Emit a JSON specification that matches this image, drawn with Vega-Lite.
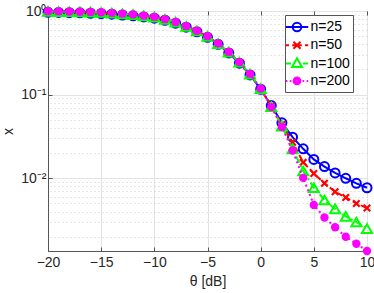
{
  "$schema": "https://vega.github.io/schema/vega-lite/v6.json",
  "width": 319,
  "height": 240,
  "autosize": {"type": "none"},
  "padding": {"left": 48, "top": 11, "right": 7, "bottom": 42},
  "config": {
    "font": "Liberation Sans",
    "view": {"stroke": "#555555", "strokeWidth": 1},
    "axis": {
      "labelFont": "Liberation Sans",
      "titleFont": "Liberation Sans",
      "labelFontSize": 14,
      "titleFontSize": 14,
      "titleFontWeight": "normal",
      "labelColor": "#262626",
      "titleColor": "#262626",
      "domainColor": "#555555",
      "tickColor": "#555555",
      "gridColor": "#e3e3e3",
      "gridOpacity": 1,
      "labelFlush": false
    },
    "legend": {
      "labelFont": "Liberation Sans",
      "labelFontSize": 14,
      "labelColor": "#000000"
    }
  },
  "data": {
    "values": [
      {"t": -20, "x": 0.965, "n": "n=25"}, {"t": -19, "x": 0.96, "n": "n=25"}, {"t": -18, "x": 0.955, "n": "n=25"}, {"t": -17, "x": 0.95, "n": "n=25"}, {"t": -16, "x": 0.94, "n": "n=25"}, {"t": -15, "x": 0.93, "n": "n=25"}, {"t": -14, "x": 0.915, "n": "n=25"}, {"t": -13, "x": 0.895, "n": "n=25"}, {"t": -12, "x": 0.875, "n": "n=25"}, {"t": -11, "x": 0.85, "n": "n=25"}, {"t": -10, "x": 0.82, "n": "n=25"}, {"t": -9, "x": 0.775, "n": "n=25"}, {"t": -8, "x": 0.715, "n": "n=25"}, {"t": -7, "x": 0.64, "n": "n=25"}, {"t": -6, "x": 0.565, "n": "n=25"}, {"t": -5, "x": 0.485, "n": "n=25"}, {"t": -4, "x": 0.40, "n": "n=25"}, {"t": -3, "x": 0.315, "n": "n=25"}, {"t": -2, "x": 0.238, "n": "n=25"}, {"t": -1, "x": 0.172, "n": "n=25"}, {"t": 0, "x": 0.116, "n": "n=25"}, {"t": 1, "x": 0.074, "n": "n=25"}, {"t": 2, "x": 0.046, "n": "n=25"}, {"t": 3, "x": 0.031, "n": "n=25"}, {"t": 4, "x": 0.0225, "n": "n=25"}, {"t": 5, "x": 0.0168, "n": "n=25"}, {"t": 6, "x": 0.0138, "n": "n=25"}, {"t": 7, "x": 0.0116, "n": "n=25"}, {"t": 8, "x": 0.0100, "n": "n=25"}, {"t": 9, "x": 0.0087, "n": "n=25"}, {"t": 10, "x": 0.0077, "n": "n=25"},
      {"t": -20, "x": 0.98, "n": "n=50"}, {"t": -19, "x": 0.975, "n": "n=50"}, {"t": -18, "x": 0.97, "n": "n=50"}, {"t": -17, "x": 0.965, "n": "n=50"}, {"t": -16, "x": 0.96, "n": "n=50"}, {"t": -15, "x": 0.95, "n": "n=50"}, {"t": -14, "x": 0.935, "n": "n=50"}, {"t": -13, "x": 0.915, "n": "n=50"}, {"t": -12, "x": 0.895, "n": "n=50"}, {"t": -11, "x": 0.865, "n": "n=50"}, {"t": -10, "x": 0.835, "n": "n=50"}, {"t": -9, "x": 0.79, "n": "n=50"}, {"t": -8, "x": 0.73, "n": "n=50"}, {"t": -7, "x": 0.65, "n": "n=50"}, {"t": -6, "x": 0.575, "n": "n=50"}, {"t": -5, "x": 0.495, "n": "n=50"}, {"t": -4, "x": 0.405, "n": "n=50"}, {"t": -3, "x": 0.32, "n": "n=50"}, {"t": -2, "x": 0.242, "n": "n=50"}, {"t": -1, "x": 0.175, "n": "n=50"}, {"t": 0, "x": 0.117, "n": "n=50"}, {"t": 1, "x": 0.073, "n": "n=50"}, {"t": 2, "x": 0.044, "n": "n=50"}, {"t": 3, "x": 0.027, "n": "n=50"}, {"t": 4, "x": 0.0155, "n": "n=50"}, {"t": 5, "x": 0.0114, "n": "n=50"}, {"t": 6, "x": 0.0087, "n": "n=50"}, {"t": 7, "x": 0.0069, "n": "n=50"}, {"t": 8, "x": 0.0059, "n": "n=50"}, {"t": 9, "x": 0.0050, "n": "n=50"}, {"t": 10, "x": 0.0044, "n": "n=50"},
      {"t": -20, "x": 0.99, "n": "n=100"}, {"t": -19, "x": 0.985, "n": "n=100"}, {"t": -18, "x": 0.98, "n": "n=100"}, {"t": -17, "x": 0.975, "n": "n=100"}, {"t": -16, "x": 0.97, "n": "n=100"}, {"t": -15, "x": 0.96, "n": "n=100"}, {"t": -14, "x": 0.945, "n": "n=100"}, {"t": -13, "x": 0.925, "n": "n=100"}, {"t": -12, "x": 0.905, "n": "n=100"}, {"t": -11, "x": 0.875, "n": "n=100"}, {"t": -10, "x": 0.845, "n": "n=100"}, {"t": -9, "x": 0.795, "n": "n=100"}, {"t": -8, "x": 0.735, "n": "n=100"}, {"t": -7, "x": 0.655, "n": "n=100"}, {"t": -6, "x": 0.578, "n": "n=100"}, {"t": -5, "x": 0.498, "n": "n=100"}, {"t": -4, "x": 0.408, "n": "n=100"}, {"t": -3, "x": 0.323, "n": "n=100"}, {"t": -2, "x": 0.244, "n": "n=100"}, {"t": -1, "x": 0.176, "n": "n=100"}, {"t": 0, "x": 0.118, "n": "n=100"}, {"t": 1, "x": 0.072, "n": "n=100"}, {"t": 2, "x": 0.042, "n": "n=100"}, {"t": 3, "x": 0.0225, "n": "n=100"}, {"t": 4, "x": 0.0122, "n": "n=100"}, {"t": 5, "x": 0.0077, "n": "n=100"}, {"t": 6, "x": 0.0055, "n": "n=100"}, {"t": 7, "x": 0.0043, "n": "n=100"}, {"t": 8, "x": 0.0035, "n": "n=100"}, {"t": 9, "x": 0.0030, "n": "n=100"}, {"t": 10, "x": 0.0025, "n": "n=100"},
      {"t": -20, "x": 0.995, "n": "n=200"}, {"t": -19, "x": 0.99, "n": "n=200"}, {"t": -18, "x": 0.985, "n": "n=200"}, {"t": -17, "x": 0.98, "n": "n=200"}, {"t": -16, "x": 0.975, "n": "n=200"}, {"t": -15, "x": 0.965, "n": "n=200"}, {"t": -14, "x": 0.95, "n": "n=200"}, {"t": -13, "x": 0.93, "n": "n=200"}, {"t": -12, "x": 0.91, "n": "n=200"}, {"t": -11, "x": 0.88, "n": "n=200"}, {"t": -10, "x": 0.85, "n": "n=200"}, {"t": -9, "x": 0.80, "n": "n=200"}, {"t": -8, "x": 0.74, "n": "n=200"}, {"t": -7, "x": 0.66, "n": "n=200"}, {"t": -6, "x": 0.58, "n": "n=200"}, {"t": -5, "x": 0.50, "n": "n=200"}, {"t": -4, "x": 0.41, "n": "n=200"}, {"t": -3, "x": 0.325, "n": "n=200"}, {"t": -2, "x": 0.245, "n": "n=200"}, {"t": -1, "x": 0.177, "n": "n=200"}, {"t": 0, "x": 0.118, "n": "n=200"}, {"t": 1, "x": 0.071, "n": "n=200"}, {"t": 2, "x": 0.041, "n": "n=200"}, {"t": 3, "x": 0.0215, "n": "n=200"}, {"t": 4, "x": 0.0101, "n": "n=200"}, {"t": 5, "x": 0.0048, "n": "n=200"}, {"t": 6, "x": 0.0034, "n": "n=200"}, {"t": 7, "x": 0.0026, "n": "n=200"}, {"t": 8, "x": 0.0020, "n": "n=200"}, {"t": 9, "x": 0.00165, "n": "n=200"}, {"t": 10, "x": 0.00135, "n": "n=200"}
    ]
  },
  "encoding": {
    "x": {"field": "t", "type": "quantitative", "scale": {"domain": [-20, 10], "nice": false, "zero": false}, "axis": null},
    "y": {"field": "x", "type": "quantitative", "scale": {"type": "log", "domain": [0.00135, 1], "nice": false}, "axis": null}
  },
  "layer": [
    {
      "transform": [{"filter": "datum.n == 'n=25'"}],
      "mark": {"type": "line", "strokeWidth": 2, "color": "#0000ff", "clip": false},
      "encoding": {
        "x": {
          "field": "t", "type": "quantitative",
          "scale": {"domain": [-20, 10], "nice": false, "zero": false},
          "axis": {
            "values": [-20, -15, -10, -5, 0, 5, 10],
            "title": "θ [dB]",
            "grid": true,
            "tickSize": -4,
            "labelFlush": false,
            "labelPadding": 8,
            "titlePadding": 5
          }
        },
        "y": {
          "field": "x", "type": "quantitative",
          "scale": {"type": "log", "domain": [0.00135, 1], "nice": false},
          "axis": {
            "values": [0.01, 0.1, 1],
            "labelExpr": "datum.value >= 0.5 ? '10⁰' : datum.value >= 0.05 ? '10⁻¹' : '10⁻²'",
            "title": "x",
            "grid": true,
            "tickSize": -4,
            "labelFlush": false,
            "labelPadding": 6,
            "titlePadding": 5
          }
        }
      }
    },
    {
      "transform": [{"filter": "datum.n == 'n=25'"}],
      "mark": {"type": "point", "shape": "circle", "size": 81, "filled": false, "strokeWidth": 2, "color": "#0000ff", "opacity": 1, "clip": false}
    },
    {
      "transform": [{"filter": "datum.n == 'n=50'"}],
      "mark": {"type": "line", "strokeWidth": 2, "color": "#ff0000", "strokeDash": [6, 3], "clip": false}
    },
    {
      "transform": [{"filter": "datum.n == 'n=50'"}],
      "mark": {"type": "point", "shape": "M-1,-1L1,1M1,-1L-1,1", "size": 42, "filled": false, "strokeWidth": 2.2, "color": "#ff0000", "opacity": 1, "clip": false}
    },
    {
      "transform": [{"filter": "datum.n == 'n=100'"}],
      "mark": {"type": "line", "strokeWidth": 2, "color": "#00ff00", "strokeDash": [7, 3, 2, 3], "clip": false}
    },
    {
      "transform": [{"filter": "datum.n == 'n=100'"}],
      "mark": {"type": "point", "shape": "triangle-up", "size": 100, "filled": false, "strokeWidth": 2, "color": "#00ff00", "opacity": 1, "clip": false}
    },
    {
      "transform": [{"filter": "datum.n == 'n=200'"}],
      "mark": {"type": "line", "strokeWidth": 2, "color": "#ff00ff", "strokeDash": [2, 3], "clip": false}
    },
    {
      "transform": [{"filter": "datum.n == 'n=200'"}],
      "mark": {"type": "point", "shape": "circle", "size": 70, "filled": true, "color": "#ff00ff", "opacity": 1, "clip": false}
    },
    {
      "transform": [{"filter": "datum.t > 100"}],
      "mark": {"type": "point", "filled": false, "strokeWidth": 2, "opacity": 1},
      "encoding": {
        "x": {
          "field": "t", "type": "quantitative",
          "scale": {"domain": [-20, 10], "nice": false, "zero": false},
          "axis": {"orient": "top", "values": [-20, -15, -10, -5, 0, 5, 10], "labels": false, "grid": false, "domain": false, "tickSize": -4, "title": null}
        },
        "y": {
          "field": "x", "type": "quantitative",
          "scale": {"type": "log", "domain": [0.00135, 1], "nice": false},
          "axis": {
            "orient": "right",
            "values": [0.002, 0.003, 0.004, 0.005, 0.006, 0.007, 0.008, 0.009, 0.02, 0.03, 0.04, 0.05, 0.06, 0.07, 0.08, 0.09, 0.2, 0.3, 0.4, 0.5, 0.6, 0.7, 0.8, 0.9],
            "labels": false, "domain": false, "ticks": false,
            "grid": true, "gridDash": [1, 3], "gridColor": "#cccccc",
            "title": null
          }
        },
        "color": {
          "field": "n", "type": "nominal",
          "scale": {"domain": ["n=25", "n=50", "n=100", "n=200"], "range": ["#0000ff", "#ff0000", "#00ff00", "#ff00ff"]},
          "legend": {
            "title": null,
            "orient": "none",
            "legendX": 237,
            "legendY": 4,
            "padding": 3,
            "strokeColor": "#555555",
            "fillColor": "#ffffff",
            "rowPadding": 0.3,
            "symbolSize": 256,
            "symbolStrokeWidth": 2,
            "symbolFillColor": "transparent",
            "labelOffset": 4.5
          }
        },
        "shape": {
          "field": "n", "type": "nominal",
          "scale": {
            "domain": ["n=25", "n=50", "n=100", "n=200"],
            "range": [
              "M-1.4,0L1.4,0M0.54,0A0.54,0.54 0 1,1 -0.54,0A0.54,0.54 0 1,1 0.54,0",
              "M-1.4,0L-1.0,0M-0.6,0L0.6,0M1.0,0L1.4,0M-0.44,-0.44L0.44,0.44M0.44,-0.44L-0.44,0.44",
              "M-1.4,0L-0.75,0M0.75,0L1.4,0M0,-0.66L0.62,0.42L-0.62,0.42Z",
              "M-1.4,0L-1.2,0M-0.9,0L-0.7,0M0.7,0L0.9,0M1.2,0L1.4,0M0.42,0A0.42,0.42 0 1,1 -0.42,0A0.42,0.42 0 1,1 0.42,0M0.3,0A0.3,0.3 0 1,1 -0.3,0A0.3,0.3 0 1,1 0.3,0M0.18,0A0.18,0.18 0 1,1 -0.18,0A0.18,0.18 0 1,1 0.18,0M0.06,0A0.06,0.06 0 1,1 -0.06,0A0.06,0.06 0 1,1 0.06,0"
            ]
          },
          "legend": {
            "title": null,
            "orient": "none",
            "legendX": 237,
            "legendY": 4,
            "padding": 3,
            "strokeColor": "#555555",
            "fillColor": "#ffffff",
            "rowPadding": 0.3,
            "symbolSize": 256,
            "symbolStrokeWidth": 2,
            "symbolFillColor": "transparent",
            "labelOffset": 4.5
          }
        }
      }
    }
  ],
  "resolve": {"axis": {"x": "independent", "y": "independent"}}
}
